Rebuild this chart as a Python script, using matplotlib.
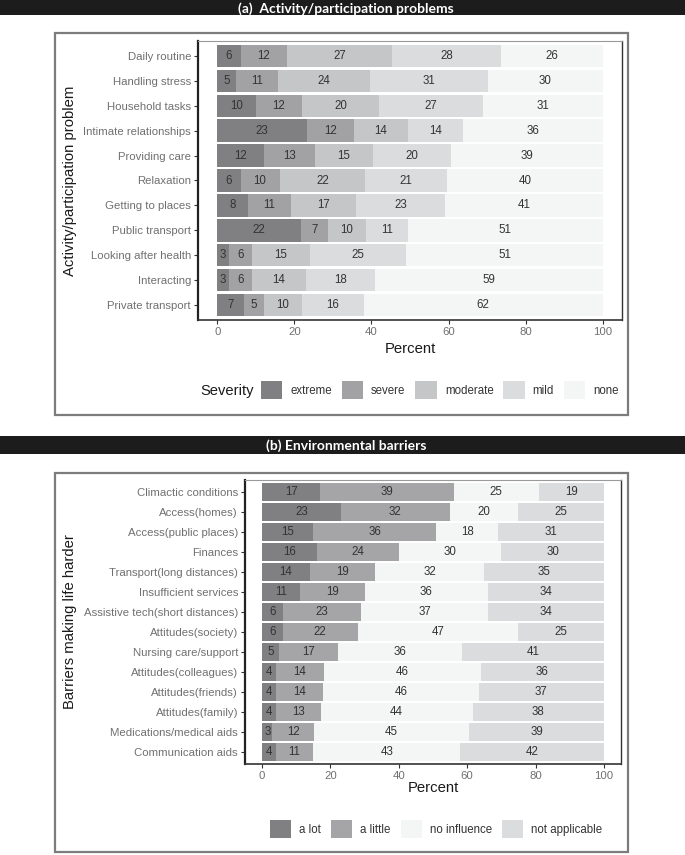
import numpy as np
import matplotlib
matplotlib.use('Agg')
import matplotlib.pyplot as plt
from matplotlib.patches import Rectangle, Patch

plt.rcParams['font.family'] = ['Liberation Sans', 'DejaVu Sans']

# (a) activity / participation problems, percent per severity level
activities = ['Daily routine', 'Handling stress', 'Household tasks', 'Intimate relationships',
              'Providing care', 'Relaxation', 'Getting to places', 'Public transport',
              'Looking after health', 'Interacting', 'Private transport']
extreme = [6, 5, 10, 23, 12, 6, 8, 22, 3, 3, 7]
severe = [12, 11, 12, 12, 13, 10, 11, 7, 6, 6, 5]
moderate = [27, 24, 20, 14, 15, 22, 17, 10, 15, 14, 10]
mild = [28, 31, 27, 14, 20, 21, 23, 11, 25, 18, 16]
none_ = [26, 30, 31, 36, 39, 40, 41, 51, 51, 59, 62]
severity_levels = ['extreme', 'severe', 'moderate', 'mild', 'none']
severity_colors = ['#808083', '#a2a2a5', '#c5c6c8', '#dbdcde', '#f4f6f6']

# (b) environmental barriers making life harder
barriers = ['Climactic conditions', 'Access(homes)', 'Access(public places)', 'Finances',
            'Transport(long distances)', 'Insufficient services',
            'Assistive tech(short distances)', 'Attitudes(society)', 'Nursing care/support',
            'Attitudes(colleagues)', 'Attitudes(friends)', 'Attitudes(family)',
            'Medications/medical aids', 'Communication aids']
a_lot = [17, 23, 15, 16, 14, 11, 6, 6, 5, 4, 4, 4, 3, 4]
a_little = [39, 32, 36, 24, 19, 19, 23, 22, 17, 14, 14, 13, 12, 11]
no_influence = [25, 20, 18, 30, 32, 36, 37, 47, 36, 46, 46, 44, 45, 43]
not_applicable = [19, 25, 31, 30, 35, 34, 34, 25, 41, 36, 37, 38, 39, 42]
influence_levels = ['a lot', 'a little', 'no influence', 'not applicable']
influence_colors = ['#808083', '#a5a5a8', '#f4f6f6', '#dbdcde']

W, H = 685, 855
fig = plt.figure(figsize=(W / 100, H / 100), dpi=100)
fig.patch.set_facecolor('white')


def fx(px):
    return px / W


def fy(py):
    return 1 - py / H


def banner(y0, y1, text):
    fig.add_artist(Rectangle((0, fy(y1)), 1, fy(y0) - fy(y1), transform=fig.transFigure,
                             facecolor='#1c1c1c', edgecolor='none', zorder=0))
    fig.text(0.505, fy((y0 + y1) / 2) - 0.001, text, color='white', weight='bold',
             family=['Lato', 'DejaVu Sans'], fontsize=10, ha='center', va='center')


def frame(x0, y0, x1, y1):
    fig.add_artist(Rectangle((fx(x0), fy(y1)), fx(x1) - fx(x0), fy(y0) - fy(y1),
                             transform=fig.transFigure, fill=False,
                             edgecolor='#7c7c7c', linewidth=1.6, zorder=0))


def stacked_panel(box, cats, series, colors):
    x0, y0, x1, y1 = box
    ax = fig.add_axes([fx(x0), fy(y1), fx(x1) - fx(x0), fy(y0) - fy(y1)])
    data = np.array(series, dtype=float)
    shares = data / data.sum(axis=0) * 100
    y = np.arange(len(cats))
    left = np.zeros(len(cats))
    for vals, share, col in zip(data, shares, colors):
        bars = ax.barh(y, share, left=left, height=0.9, color=col, linewidth=0)
        ax.bar_label(bars, labels=[f'{v:.0f}' for v in vals], label_type='center',
                     fontsize=8.3, color='#333333')
        left += share
    ax.set_yticks(y, cats)
    ax.set_ylim(len(cats) - 0.4, -0.6)
    ax.set_xlim(-5, 105)
    ax.set_xticks([0, 20, 40, 60, 80, 100])
    ax.tick_params(axis='both', length=3, width=0.8, color='#333333',
                   labelcolor='#707070', labelsize=8.2, pad=2)
    ax.spines['top'].set_color('#9a9a9a')
    ax.spines['top'].set_linewidth(0.8)
    ax.spines['right'].set_color('#333333')
    ax.spines['right'].set_linewidth(1.0)
    ax.spines['bottom'].set_color('#333333')
    ax.spines['bottom'].set_linewidth(1.2)
    ax.spines['left'].set_color('#222222')
    ax.spines['left'].set_linewidth(1.6)
    return ax


# ---- panel (a)
banner(0, 15, '(a)  Activity/participation problems')
frame(55, 33, 628, 415)
ax_a = stacked_panel((198, 41, 622, 320), activities,
                     [extreme, severe, moderate, mild, none_], severity_colors)
fig.text(fx(410), fy(349), 'Percent', fontsize=10.7, color='#1a1a1a', ha='center', va='center')
fig.text(fx(70), fy(181), 'Activity/participation problem', fontsize=10.7, color='#1a1a1a',
         rotation=90, ha='center', va='center')
fig.text(fx(200), fy(391), 'Severity', fontsize=10.6, color='#1a1a1a', ha='left', va='center')
fig.legend([Patch(facecolor=c, edgecolor='none') for c in severity_colors], severity_levels,
           loc='center left', bbox_to_anchor=(fx(261), fy(390)), ncol=5, frameon=False,
           fontsize=8.3, labelcolor='#333333', handlelength=1.85, handleheight=1.9,
           handletextpad=0.7, columnspacing=0.85, borderpad=0, borderaxespad=0)

# ---- panel (b)
banner(436, 454, '(b) Environmental barriers')
frame(55, 473, 628, 852)
ax_b = stacked_panel((245, 480, 621, 764), barriers,
                     [a_lot, a_little, no_influence, not_applicable], influence_colors)
fig.text(fx(433), fy(788), 'Percent', fontsize=10.7, color='#1a1a1a', ha='center', va='center')
fig.text(fx(70), fy(622), 'Barriers making life harder', fontsize=10.7, color='#1a1a1a',
         rotation=90, ha='center', va='center')
fig.legend([Patch(facecolor=c, edgecolor='none') for c in influence_colors], influence_levels,
           loc='center left', bbox_to_anchor=(fx(270), fy(829)), ncol=4, frameon=False,
           fontsize=8.3, labelcolor='#333333', handlelength=1.85, handleheight=1.95,
           handletextpad=0.7, columnspacing=0.85, borderpad=0, borderaxespad=0)

fig.savefig('out.png', dpi=100)
